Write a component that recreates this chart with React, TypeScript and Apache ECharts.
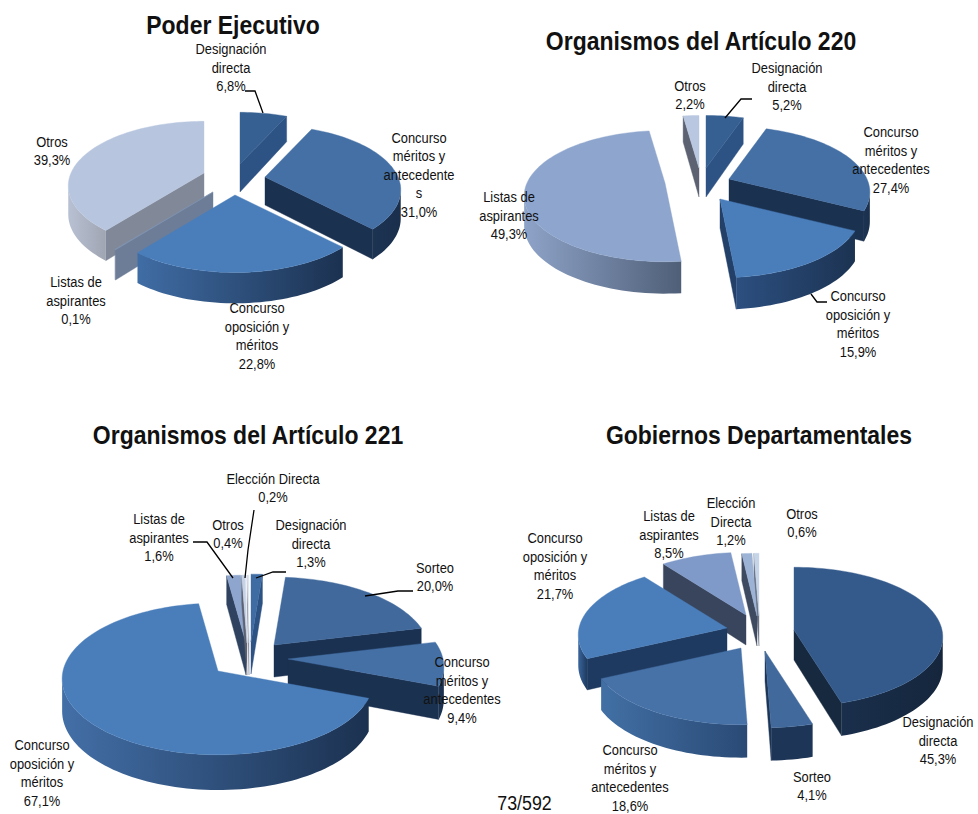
import React, { useEffect, useRef } from "react";
import * as echarts from "echarts";

// ---------- data ----------
const poderValues = [6.8, 31.0, 22.8, 0.1, 39.3];
const poderLabels = [
  ["Designación", "directa"],
  ["Concurso", "méritos y", "antecedente", "s"],
  ["Concurso", "oposición y", "méritos"],
  ["Listas de", "aspirantes"],
  ["Otros"],
];
const art220Values = [5.2, 27.4, 15.9, 49.3, 2.2];
const art220Labels = [
  ["Designación", "directa"],
  ["Concurso", "méritos y", "antecedentes"],
  ["Concurso", "oposición y", "méritos"],
  ["Listas de", "aspirantes"],
  ["Otros"],
];
const art221Values = [1.3, 20.0, 9.4, 67.1, 1.6, 0.4, 0.2];
const art221Labels = [
  ["Designación", "directa"],
  ["Sorteo"],
  ["Concurso", "méritos y", "antecedentes"],
  ["Concurso", "oposición y", "méritos"],
  ["Listas de", "aspirantes"],
  ["Otros"],
  ["Elección Directa"],
];
const deptValues = [45.3, 4.1, 18.6, 21.7, 8.5, 1.2, 0.6];
const deptLabels = [
  ["Designación", "directa"],
  ["Sorteo"],
  ["Concurso", "méritos y", "antecedentes"],
  ["Concurso", "oposición y", "méritos"],
  ["Listas de", "aspirantes"],
  ["Elección", "Directa"],
  ["Otros"],
];
const titles = ["Poder Ejecutivo", "Organismos del Artículo 220", "Organismos del Artículo 221", "Gobiernos Departamentales"];
const pageMark = "73/592";

// ---------- layout and styles ----------
type Sty = [string, string, string, string]; // top, radial wall, arc wall left, arc wall right
const pies: any[] = [
  {
    title: titles[0], titleAt: [233, 25], values: poderValues, labels: poderLabels,
    rx: 133, ry: 62, p: 0.2, depth: 28,
    apex: [[240, 164], [265, 177], [235, 195], [213, 192], [204, 173]],
    labelAt: [[231, 68], [419, 175], [257, 336], [76, 301], [52, 151]],
    order: [0, 4, 1, 3, 2],
    leaders: [[[245, 91], [255, 91], [263, 113]]],
    styles: [
      ["#366092", "#2d5284", "#2d5284", "#2d5284"],
      ["#4470a5", "#1b3150", "#1c3352", "#1a2f4c"],
      ["#4a7ebb", "#1c3352", "#406da5", "#1b3150"],
      ["#8197b8", "#6d7d98", "#6d7d98", "#6d7d98"],
      ["#b7c6de", "#818999", "#b8c1d3", "#a0a5b2"],
    ] as Sty[],
  },
  {
    title: titles[1], titleAt: [701, 41], values: art220Values, labels: art220Labels,
    rx: 138, ry: 63, p: 0.2, depth: 29,
    apex: [[706, 168], [729, 179], [720, 199], [665, 183], [699, 168]],
    labelAt: [[787, 87], [891, 160], [858, 324], [509, 216], [690, 95]],
    order: [4, 0, 3, 1, 2],
    leaders: [[[752, 99], [741, 99], [725, 118]], [[827, 302], [817, 302], [811, 294]]],
    styles: [
      ["#366092", "#2d5284", "#2d5284", "#2d5284"],
      ["#4470a5", "#1b3150", "#1c3352", "#1a2f4c"],
      ["#4a7ebb", "#234069", "#2c4f80", "#1c3352"],
      ["#8ea5cd", "#505f79", "#8ea3c8", "#4f5f78"],
      ["#b9c8e0", "#5c6272", "#5c6272", "#5c6272"],
    ] as Sty[],
  },
  {
    title: titles[2], titleAt: [248, 435], values: art221Values, labels: art221Labels,
    rx: 155, ry: 75, p: 0.105, depth: 32,
    apex: [[251, 642], [274, 645], [288, 659], [218, 671], [246, 643], [247, 643], [249, 643]],
    labelAt: [[311, 544], [435, 577], [462, 690], [42, 773], [159, 538], [228, 534], [273, 488]],
    order: [0, 4, 5, 6, 1, 2, 3],
    leaders: [
      [[193, 542], [207, 542], [233, 578]],
      [[254, 510], [248, 550], [245, 578]],
      [[286, 572], [273, 572], [256, 578]],
      [[413, 591], [398, 591], [365, 596]],
    ],
    styles: [
      ["#3f6ca3", "#2d5284", "#2d5284", "#2d5284"],
      ["#41699c", "#1a3151", "#1a3151", "#1a3151"],
      ["#4470a5", "#1b3150", "#1c3352", "#1a2f4c"],
      ["#4a7ebb", "#1d3555", "#436fa7", "#1b3150"],
      ["#8ea5cd", "#2f4360", "#2f4360", "#2f4360"],
      ["#c6d2e6", "#5c6272", "#5c6272", "#5c6272"],
      ["#dde5f1", "#7c8494", "#7c8494", "#7c8494"],
    ] as Sty[],
  },
  {
    title: titles[3], titleAt: [759, 435], values: deptValues, labels: deptLabels,
    rx: 148, ry: 69, p: 0.1, depth: 30,
    apex: [[794, 630], [765, 651], [741, 648], [727, 628], [746, 615], [757, 616], [759, 616]],
    labelAt: [[938, 741], [812, 786], [630, 778], [555, 566], [669, 535], [731, 522], [802, 523]],
    order: [6, 5, 4, 3, 0, 2, 1],
    leaders: [],
    styles: [
      ["#345a8c", "#17293f", "#1a2f4c", "#15263c"],
      ["#42699c", "#1d3557", "#1d3557", "#1d3557"],
      ["#4672a8", "#2a4a75", "#4270a5", "#2a4a75"],
      ["#4a7ebb", "#1e3a60", "#3a659c", "#1e3a60"],
      ["#7f9ac8", "#39455c", "#39455c", "#39455c"],
      ["#9cb3d6", "#3e4a60", "#3e4a60", "#3e4a60"],
      ["#c6d4e8", "#6b7486", "#6b7486", "#6b7486"],
    ] as Sty[],
  },
];

const LABEL_FONT = "Liberation Sans, Arial, sans-serif";
const SQUEEZE = 0.89;
const DEPTH_TILT = 0.1;
const pct = (v: number) => v.toFixed(1).replace(".", ",") + "%";

function sliceChildren(pie: any, i: number) {
  const total = pie.values.reduce((a: number, b: number) => a + b, 0);
  const before = pie.values.slice(0, i).reduce((a: number, b: number) => a + b, 0);
  const a0 = (before / total) * Math.PI * 2;
  const a1 = ((before + pie.values[i]) / total) * Math.PI * 2;
  const [ax, ay] = pie.apex[i];
  const [top, radial, arcL, arcR] = pie.styles[i] as Sty;

  const project = (a: number) => {
    const u = Math.sin(a);
    const v = Math.cos(a);
    const w = 1 + pie.p * v;
    return [ax + (pie.rx * u) / w, ay - (pie.ry * v) / w, pie.depth * (1 - DEPTH_TILT * v)];
  };
  const steps = Math.max(2, Math.ceil((a1 - a0) / (Math.PI / 90)));
  const arc: number[][] = [];
  for (let s = 0; s <= steps; s++) arc.push(project(a0 + ((a1 - a0) * s) / steps));
  const apexDepth = pie.depth;
  const solid = (c: string) => ({ fill: c, stroke: c, lineWidth: 0.4 });
  const children: any[] = [];

  const wall = (p: number[], q: number[]) => ({
    type: "polygon",
    silent: true,
    shape: { points: [[p[0], p[1]], [q[0], q[1]], [q[0], q[1] + q[2]], [p[0], p[1] + p[2]]] },
    style: solid(radial),
  });
  const apexPt = [ax, ay, apexDepth];
  const first = arc[0];
  const last = arc[arc.length - 1];
  if (first[0] < ax - 0.5) children.push(wall(apexPt, first));
  if (last[0] > ax + 0.5) children.push(wall(last, apexPt));

  // outer wall: the stretches of the rim that run leftwards on screen face the viewer
  let run: number[][] = [];
  const flush = () => {
    if (run.length > 1) {
      const pts = [
        ...run.map((r) => [r[0], r[1]]),
        ...run.slice().reverse().map((r) => [r[0], r[1] + r[2]]),
      ];
      children.push({
        type: "polygon",
        silent: true,
        shape: { points: pts },
        style: {
          fill: new echarts.graphic.LinearGradient(0, 0, 1, 0, [
            { offset: 0, color: arcL },
            { offset: 1, color: arcR },
          ]),
          stroke: "none",
        },
      });
    }
    run = [];
  };
  for (let s = 0; s < arc.length - 1; s++) {
    if (arc[s + 1][0] < arc[s][0]) {
      if (!run.length) run.push(arc[s]);
      run.push(arc[s + 1]);
    } else flush();
  }
  flush();

  children.push({
    type: "polygon",
    silent: true,
    shape: { points: [[ax, ay], ...arc.map((r) => [r[0], r[1]])] },
    style: solid(top),
  });
  return children;
}

function textEl(text: string, x: number, y: number, size: number, weight: string, lineHeight?: number) {
  return {
    type: "text",
    silent: true,
    x,
    y,
    scaleX: SQUEEZE,
    style: {
      text,
      fill: "#111111",
      fontFamily: LABEL_FONT,
      fontSize: size,
      fontWeight: weight,
      lineHeight: lineHeight || size * 1.2,
      align: "center",
      verticalAlign: "middle",
    },
  };
}

function buildOption() {
  const series: any[] = [];
  pies.forEach((pie) => {
    series.push({
      type: "custom",
      name: pie.title,
      coordinateSystem: "none",
      z: 2,
      silent: true,
      data: pie.order.map((i: number) => pie.values[i]),
      renderItem: (params: any) => ({
        type: "group",
        children: sliceChildren(pie, pie.order[params.dataIndex]),
      }),
    });
    series.push({
      type: "custom",
      name: pie.title + " etiquetas",
      coordinateSystem: "none",
      z: 3,
      silent: true,
      data: pie.values,
      renderItem: (params: any) => {
        const i = params.dataIndex;
        const [lx, ly] = pie.labelAt[i];
        const text = [...pie.labels[i], pct(pie.values[i])].join("\n");
        return { type: "group", children: [textEl(text, lx, ly, 14.5, "normal", 18.5)] };
      },
    });
  });
  const graphic: any[] = pies.map((pie) => ({
    ...textEl(pie.title, pie.titleAt[0], pie.titleAt[1], 25.8, "bold"),
    z: 5,
  }));
  graphic.push({ ...textEl(pageMark, 524.5, 803, 20, "normal"), z: 5 });
  pies.forEach((pie) =>
    pie.leaders.forEach((pts: number[][]) =>
      graphic.push({
        type: "polyline",
        silent: true,
        z: 4,
        shape: { points: pts },
        style: { stroke: "#000000", lineWidth: 1.3, fill: "none" },
      })
    )
  );
  return { animation: false, backgroundColor: "#ffffff", series, graphic };
}

export default function App() {
  const ref = useRef<HTMLDivElement | null>(null);
  useEffect(() => {
    document.body.style.margin = "0";
    document.body.style.overflow = "hidden";
    const chart = echarts.init(ref.current as HTMLDivElement, null, { renderer: "svg" });
    chart.setOption(buildOption());
    return () => chart.dispose();
  }, []);
  return <div ref={ref} style={{ width: 978, height: 814 }} />;
}
